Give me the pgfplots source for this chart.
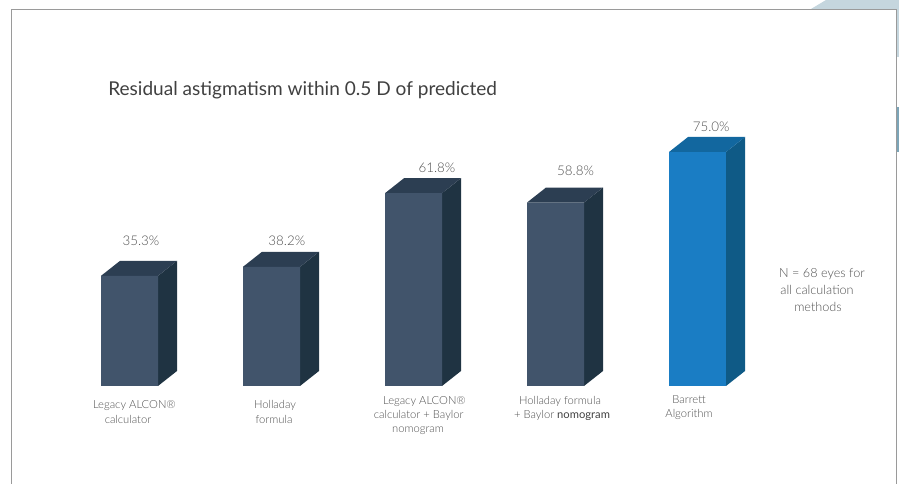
\documentclass[border=0pt]{standalone}
\usepackage{fontspec}
\setmainfont{Lato}[UprightFont=* Light]
\newfontfamily\regfont{Lato}
\usepackage{pgfplots}
\pgfplotsset{compat=1.18}
\definecolor{frontD}{HTML}{41546B}
\definecolor{sideD}{HTML}{1F3342}
\definecolor{topD}{HTML}{2C3E52}
\definecolor{frontB}{HTML}{1A7DC4}
\definecolor{sideB}{HTML}{0F5A86}
\definecolor{topB}{HTML}{12679F}
\definecolor{txt}{HTML}{505050}
\definecolor{frame}{HTML}{9A9A9A}
\definecolor{deco}{HTML}{C5D6DE}
\definecolor{deco2}{HTML}{7CA5B8}
\newcommand{\lab}[3]{\node[text=txt,font=\fontsize{8.4pt}{9pt}\selectfont,inner sep=0pt,anchor=base] at (#1,#2) {#3};}
\newcommand{\labn}[3]{\node[text=txt,font=\fontsize{9.5pt}{10pt}\selectfont,inner sep=0pt,anchor=base] at (#1,#2) {#3};}
\begin{document}
\begin{tikzpicture}
\useasboundingbox (0,0) rectangle (674.25pt,363pt);
\begin{axis}[
  at={(0,0)},anchor=south west,scale only axis,width=674.25pt,height=363pt,
  axis lines=none,clip=false,
  xmin=-0.912,xmax=5.419,ymin=-31.41,ymax=123.72,
  cycle list={{draw=none}},
]
% side faces
\addplot[fill=sideD,draw=none] coordinates {(0.2007,0)(0.3345,4.81)(0.3345,40.11)(0.2007,35.3)} --cycle;
\addplot[fill=sideD,draw=none] coordinates {(1.2007,0)(1.3345,4.81)(1.3345,43.01)(1.2007,38.2)} --cycle;
\addplot[fill=sideD,draw=none] coordinates {(2.2007,0)(2.3345,4.81)(2.3345,66.61)(2.2007,61.8)} --cycle;
\addplot[fill=sideD,draw=none] coordinates {(3.2007,0)(3.3345,4.81)(3.3345,63.61)(3.2007,58.8)} --cycle;
\addplot[fill=sideB,draw=none] coordinates {(4.2007,0)(4.3345,4.81)(4.3345,79.81)(4.2007,75.0)} --cycle;
% top faces
\addplot[fill=topD,draw=none] coordinates {(-0.2007,35.3)(-0.0669,40.11)(0.3345,40.11)(0.2007,35.3)} --cycle;
\addplot[fill=topD,draw=none] coordinates {(0.7993,38.2)(0.9331,43.01)(1.3345,43.01)(1.2007,38.2)} --cycle;
\addplot[fill=topD,draw=none] coordinates {(1.7993,61.8)(1.9331,66.61)(2.3345,66.61)(2.2007,61.8)} --cycle;
\addplot[fill=topD,draw=none] coordinates {(2.7993,58.8)(2.9331,63.61)(3.3345,63.61)(3.2007,58.8)} --cycle;
\addplot[fill=topB,draw=none] coordinates {(3.7993,75.0)(3.9331,79.81)(4.3345,79.81)(4.2007,75.0)} --cycle;
% front faces
\addplot[ybar,bar width=0.4014,bar shift=0pt,fill=frontD,draw=none] coordinates {(0,35.3)(1,38.2)(2,61.8)(3,58.8)};
\addplot[ybar,bar width=0.4014,bar shift=0pt,fill=frontB,draw=none] coordinates {(4,75.0)};
% value labels
\addplot[draw=none,mark=none,
  nodes near coords,point meta=explicit symbolic,
  every node near coord/.append style={anchor=center,inner sep=0pt,text=txt,font=\fontsize{10pt}{11pt}\selectfont}]
  table[x=x,y=y,meta=m,row sep=crcr] {
  x y m\\
  0.081 46.4 35.3\%\\
  1.108 46.4 38.2\%\\
  2.165 70.0 61.8\%\\
  3.141 69.0 58.8\%\\
  4.096 83.1 75.0\%\\
  };
\end{axis}
\begin{scope}[x=0.75pt,y=-0.75pt,yshift=363pt]
\fill[deco] (811,9) -- (826,0) -- (899,0) -- (899,57) -- (897,57) -- (897,9) -- cycle;
\fill[deco2] (897,107) rectangle (899,152);
\draw[frame,line width=0.75pt] (11.5,484) -- (11.5,9.5) -- (896.5,9.5) -- (896.5,484);
\node[anchor=west,inner sep=0pt,text=black!75,font=\regfont\fontsize{14.3pt}{16pt}\selectfont] at (108,90) {Residual astigmatism within 0.5 D of predicted};
\lab{134.5}{409}{Legacy ALCON®}
\lab{128}{424}{calculator}
\lab{275}{409}{Holladay}
\lab{274}{424}{formula}
\lab{424.5}{405}{Legacy ALCON®}
\lab{418.7}{419}{calculator + Baylor}
\lab{418}{433}{nomogram}
\lab{560}{405}{Holladay formula}
\lab{562}{419}{+ Baylor \textcolor{black!75}{\regfont nomogram}}
\lab{689}{404}{Barrett}
\lab{689}{418}{Algorithm}
\labn{822}{278}{N = 68 eyes for}
\labn{817}{295}{all calculation}
\labn{818}{312}{methods}
\end{scope}
\end{tikzpicture}
\end{document}
